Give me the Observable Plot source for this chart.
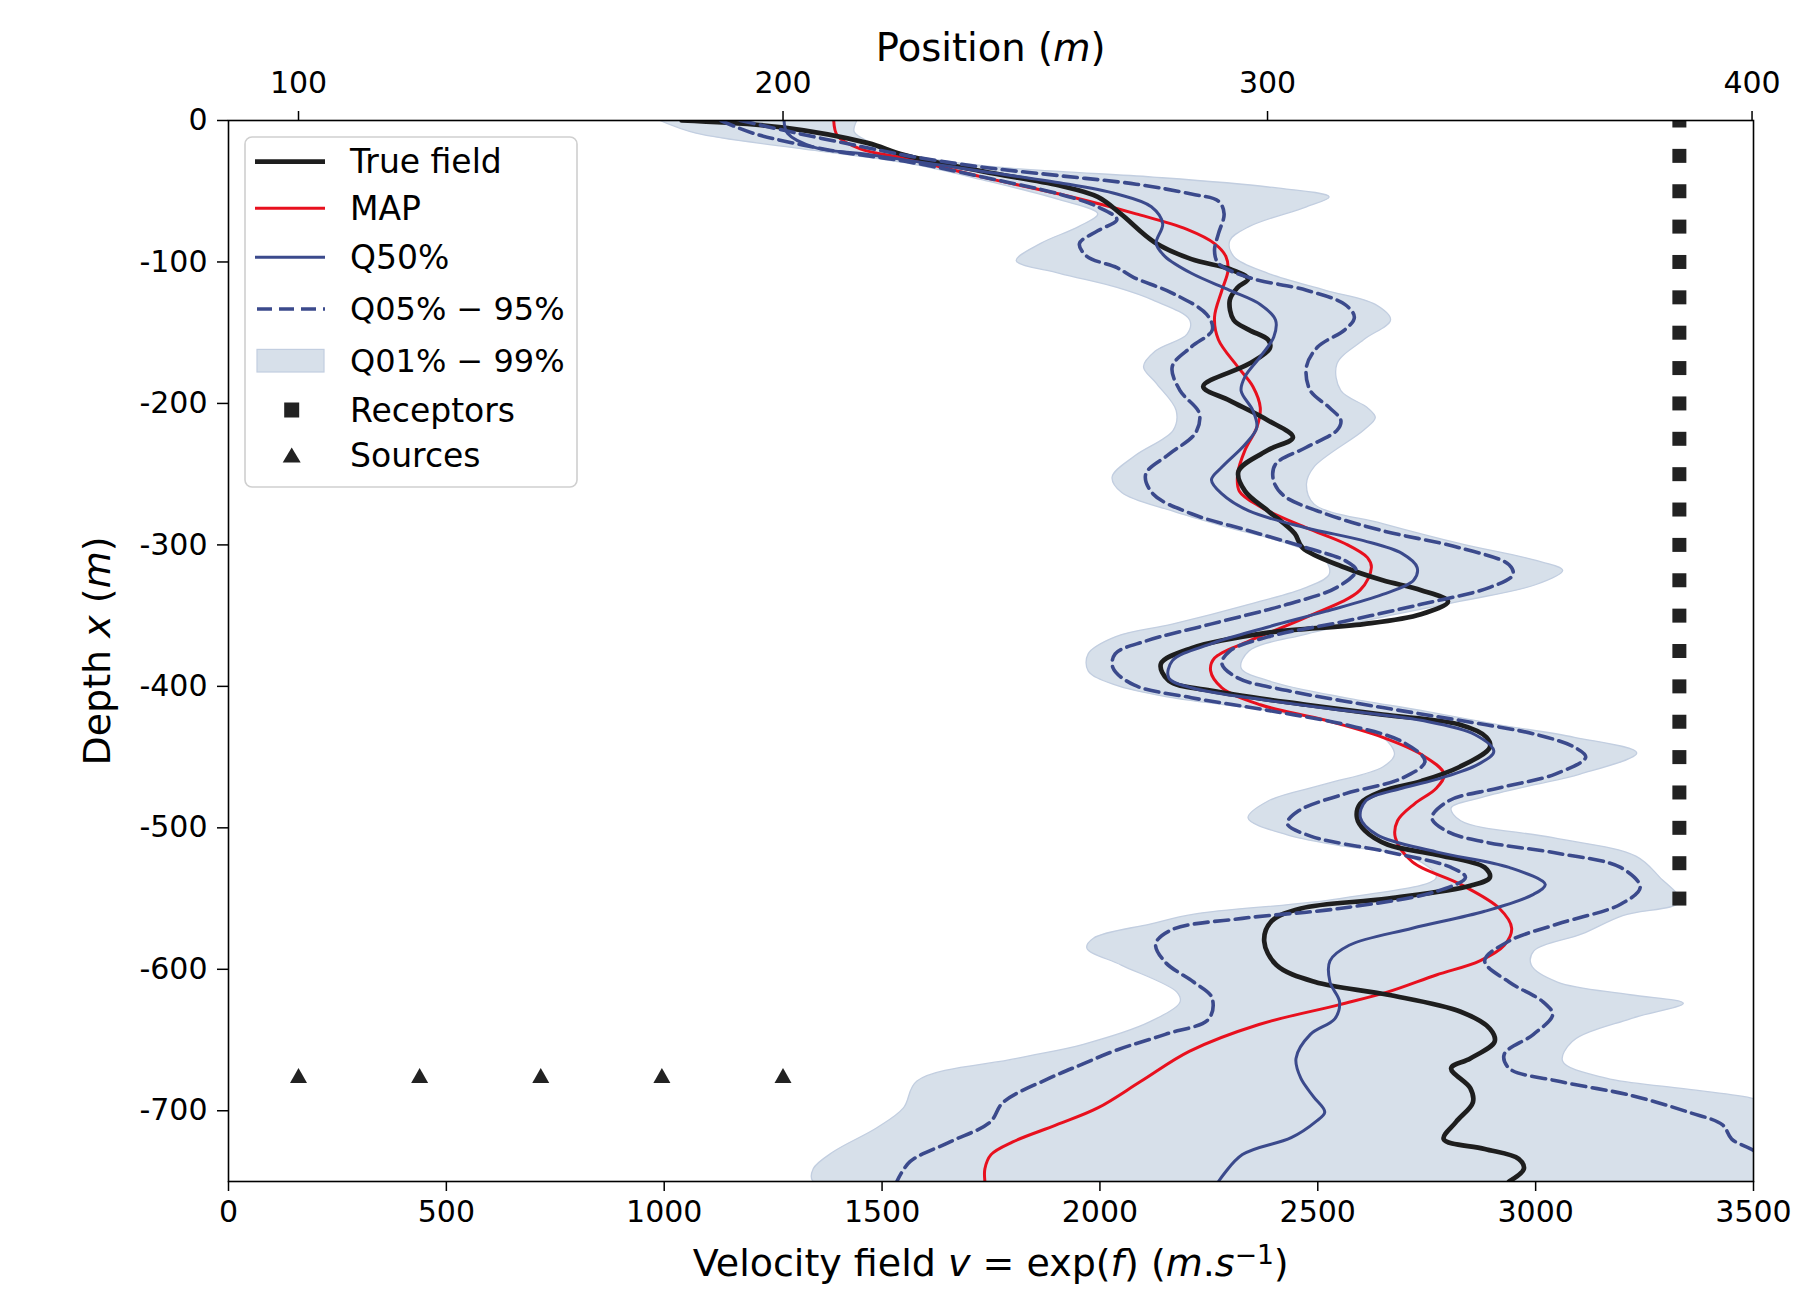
<!DOCTYPE html>
<html>
<head>
<meta charset="utf-8">
<script src="https://cdn.jsdelivr.net/npm/d3@7"></script>
<script src="https://cdn.jsdelivr.net/npm/@observablehq/plot@0.6"></script>
<style>
  body { margin: 0; background: white; }
  svg text { font-family: "DejaVu Sans", sans-serif; }
</style>
</head>
<body>
<div id="chart"></div>
<script>
// ---------- data (depth m, velocity m/s) ----------
const depthTicks = [0, -100, -200, -300, -400, -500, -600, -700];
const velocityTicks = [0, 500, 1000, 1500, 2000, 2500, 3000, 3500];
const positionTicks = [100, 200, 300, 400];
const positionDomain = [85.55, 400.3];   // top axis (Position, m)

const receptorPosition = 385;
const receptorDepths = [0, -25, -50, -75, -100, -125, -150, -175, -200, -225, -250, -275,
  -300, -325, -350, -375, -400, -425, -450, -475, -500, -525, -550];
const sourcePositions = [100, 125, 150, 175, 200];
const sourceDepth = -675;

const trueField = [[0,1040],[-5,1275],[-16,1468],[-24,1547],[-36,1731],[-46,1907],[-54,1995],[-66,2048],[-86,2125],[-98,2210],[-105,2298],[-112,2340],[-118,2316],[-127,2298],[-141,2307],[-148,2342],[-155,2386],[-161,2390],[-172,2342],[-188,2237],[-198,2298],[-212,2386],[-224,2443],[-233,2386],[-248,2318],[-262,2333],[-276,2386],[-292,2447],[-302,2465],[-316,2562],[-325,2649],[-332,2737],[-340,2799],[-349,2737],[-356,2605],[-362,2386],[-373,2210],[-384,2140],[-396,2158],[-403,2254],[-413,2474],[-420,2649],[-427,2825],[-436,2887],[-443,2895],[-457,2825],[-467,2737],[-474,2649],[-483,2597],[-493,2590],[-502,2608],[-512,2661],[-519,2772],[-528,2883],[-535,2895],[-541,2850],[-550,2661],[-557,2461],[-566,2394],[-580,2377],[-597,2405],[-609,2494],[-618,2661],[-630,2828],[-642,2895],[-651,2906],[-663,2850],[-670,2806],[-684,2850],[-694,2856],[-708,2817],[-720,2789],[-727,2883],[-734,2961],[-741,2973],[-750,2939]];

const mapField = [[0,1389],[-11,1398],[-20,1450],[-27,1556],[-40,1731],[-52,1907],[-66,2083],[-77,2200],[-87,2263],[-96,2289],[-106,2294],[-120,2280],[-139,2263],[-155,2272],[-174,2316],[-188,2351],[-203,2368],[-217,2360],[-233,2333],[-250,2316],[-262,2320],[-273,2368],[-288,2474],[-299,2562],[-309,2614],[-316,2623],[-332,2597],[-351,2474],[-368,2342],[-380,2263],[-389,2254],[-401,2280],[-413,2368],[-424,2518],[-436,2649],[-448,2737],[-462,2790],[-472,2772],[-483,2722],[-495,2683],[-507,2678],[-524,2717],[-540,2828],[-557,2917],[-571,2945],[-583,2928],[-594,2872],[-604,2772],[-616,2661],[-625,2550],[-639,2365],[-658,2205],[-679,2095],[-698,1995],[-710,1900],[-722,1800],[-731,1750],[-741,1736],[-750,1736]];

const q50 = [[0,1275],[-9,1283],[-19,1345],[-24,1468],[-28,1556],[-36,1731],[-44,1907],[-52,2039],[-61,2118],[-73,2144],[-87,2129],[-96,2149],[-108,2210],[-120,2298],[-130,2368],[-141,2403],[-153,2399],[-167,2368],[-181,2333],[-191,2324],[-205,2351],[-217,2360],[-229,2333],[-245,2280],[-254,2256],[-264,2280],[-276,2342],[-288,2474],[-297,2605],[-306,2693],[-316,2728],[-325,2720],[-335,2649],[-347,2518],[-358,2386],[-370,2254],[-382,2166],[-394,2158],[-401,2210],[-410,2386],[-417,2562],[-424,2737],[-434,2860],[-446,2904],[-455,2869],[-465,2781],[-472,2693],[-481,2610],[-493,2598],[-505,2636],[-517,2772],[-528,2939],[-540,3022],[-547,2995],[-559,2883],[-571,2717],[-583,2572],[-594,2528],[-609,2528],[-623,2550],[-635,2539],[-646,2483],[-663,2450],[-677,2461],[-690,2490],[-701,2516],[-708,2494],[-719,2439],[-731,2327],[-750,2272]];

const q05 = [[0,1130],[-9,1204],[-21,1380],[-29,1556],[-40,1731],[-52,1907],[-61,1995],[-70,2039],[-78,1995],[-87,1953],[-96,1970],[-104,2039],[-111,2078],[-122,2166],[-137,2245],[-148,2258],[-160,2210],[-174,2166],[-191,2184],[-207,2228],[-221,2219],[-236,2158],[-250,2105],[-264,2122],[-278,2210],[-290,2342],[-302,2474],[-311,2562],[-318,2588],[-330,2544],[-342,2430],[-356,2254],[-368,2105],[-377,2035],[-387,2030],[-399,2078],[-408,2210],[-417,2386],[-427,2562],[-439,2693],[-453,2746],[-465,2693],[-476,2562],[-488,2456],[-497,2430],[-506,2485],[-517,2661],[-528,2806],[-535,2839],[-545,2772],[-557,2550],[-564,2327],[-572,2165],[-582,2128],[-595,2150],[-609,2215],[-620,2257],[-635,2250],[-646,2150],[-657,2039],[-667,1960],[-677,1884],[-694,1778],[-708,1748],[-722,1656],[-736,1564],[-750,1534]];

const q95 = [[0,1175],[-8,1290],[-17,1430],[-25,1560],[-33,1731],[-39,1907],[-45,2083],[-52,2210],[-57,2272],[-66,2285],[-80,2272],[-92,2263],[-101,2272],[-111,2342],[-120,2474],[-130,2562],[-139,2584],[-148,2562],[-160,2500],[-174,2474],[-191,2483],[-203,2527],[-212,2553],[-219,2544],[-231,2474],[-243,2403],[-254,2398],[-265,2421],[-278,2518],[-290,2649],[-302,2825],[-314,2939],[-321,2948],[-330,2895],[-342,2737],[-354,2562],[-365,2386],[-375,2298],[-384,2280],[-394,2316],[-403,2430],[-415,2649],[-424,2825],[-434,3001],[-443,3089],[-450,3115],[-462,3045],[-472,2913],[-481,2800],[-493,2762],[-503,2800],[-510,2883],[-518,3050],[-528,3195],[-542,3240],[-554,3195],[-568,3050],[-580,2939],[-594,2883],[-609,2939],[-623,3017],[-632,3039],[-646,2995],[-660,2928],[-670,2939],[-679,3050],[-689,3217],[-701,3351],[-710,3429],[-720,3450],[-728,3500],[-740,3560],[-750,3600]];

const q01 = [[0,990],[-9,1073],[-19,1292],[-30,1556],[-42,1731],[-56,1907],[-66,1995],[-75,1951],[-87,1863],[-99,1808],[-108,1907],[-118,2039],[-127,2122],[-141,2206],[-151,2200],[-163,2127],[-174,2100],[-186,2130],[-205,2175],[-219,2168],[-237,2080],[-252,2028],[-263,2050],[-276,2166],[-288,2298],[-299,2430],[-311,2518],[-321,2526],[-330,2474],[-342,2342],[-356,2166],[-365,2035],[-377,1973],[-389,1973],[-399,2035],[-408,2166],[-417,2386],[-427,2562],[-436,2649],[-448,2676],[-457,2649],[-469,2518],[-481,2386],[-493,2340],[-505,2430],[-513,2560],[-521,2717],[-535,2772],[-550,2550],[-561,2216],[-568,2115],[-578,1985],[-585,1970],[-597,2049],[-616,2176],[-623,2184],[-637,2115],[-653,1962],[-663,1809],[-679,1580],[-698,1549],[-712,1488],[-729,1388],[-741,1342],[-750,1342]];

const q99 = [[0,1442],[-8,1436],[-15,1470],[-24,1560],[-32,1731],[-36,1907],[-40,2122],[-47,2386],[-54,2526],[-61,2474],[-75,2342],[-85,2298],[-96,2307],[-108,2386],[-120,2518],[-130,2632],[-141,2667],[-155,2605],[-172,2544],[-191,2553],[-203,2614],[-210,2632],[-219,2605],[-245,2491],[-257,2474],[-271,2491],[-285,2649],[-299,2825],[-311,3001],[-318,3062],[-328,3001],[-340,2825],[-351,2649],[-363,2474],[-375,2342],[-387,2324],[-396,2386],[-408,2562],[-417,2737],[-427,2913],[-436,3089],[-447,3232],[-462,3102],[-470,2990],[-479,2870],[-486,2806],[-495,2828],[-507,3040],[-520,3230],[-535,3285],[-552,3332],[-562,3200],[-575,3106],[-587,2996],[-597,2990],[-609,3050],[-618,3217],[-624,3339],[-635,3217],[-651,3084],[-665,3062],[-677,3162],[-684,3329],[-691,3495],[-700,3600],[-750,3600]];

// ---------- helpers ----------
const X_MAX = 3500;
const toV = p => (p - positionDomain[0]) * X_MAX / (positionDomain[1] - positionDomain[0]);
const toP = v => positionDomain[0] + v * (positionDomain[1] - positionDomain[0]) / X_MAX;
const rows = a => a.map(([d, v]) => ({d, v}));

const bandPolygon = rows(q01).concat(rows(q99).reverse());
const receptors = receptorDepths.map(d => ({d, v: toV(receptorPosition)}));
const sources = sourcePositions.map(p => ({d: sourceDepth, v: toV(p)}));

const squareSym = {draw(ctx, size) { const r = Math.sqrt(size / Math.PI);
  ctx.moveTo(-r, -r); ctx.lineTo(r, -r); ctx.lineTo(r, r); ctx.lineTo(-r, r); ctx.closePath(); }};
const triSym = {draw(ctx, size) { const r = Math.sqrt(size / Math.PI); const h = 0.88 * r;
  ctx.moveTo(0, -h); ctx.lineTo(r, h); ctx.lineTo(-r, h); ctx.closePath(); }};

const C = {black: "#1e1e1e", red: "#e8101e", blue: "#3b4a8c", band: "#d7e0ea", bandEdge: "#c2cee0", mark: "#222222"};

const svg = Plot.plot({
  width: 1799, height: 1294,
  marginLeft: 228, marginRight: 46, marginTop: 120, marginBottom: 113,
  style: {fontFamily: "DejaVu Sans", fontSize: "30px", background: "white", color: "black", overflow: "visible"},
  x: {domain: [0, X_MAX], axis: null},
  y: {domain: [-750, 0], axis: null},
  marks: [
    Plot.line(bandPolygon, {x: "v", y: "d", fill: C.band, stroke: C.bandEdge, strokeWidth: 1.3, curve: "catmull-rom", clip: true}),
    Plot.line(rows(mapField), {x: "v", y: "d", stroke: C.red, strokeWidth: 3, curve: "catmull-rom", clip: true}),
    Plot.line(rows(trueField), {x: "v", y: "d", stroke: C.black, strokeWidth: 4.7, curve: "catmull-rom", clip: true}),
    Plot.line(rows(q50), {x: "v", y: "d", stroke: C.blue, strokeWidth: 3, curve: "catmull-rom", clip: true}),
    Plot.line(rows(q05), {x: "v", y: "d", stroke: C.blue, strokeWidth: 3.6, strokeDasharray: "14,6.5", curve: "catmull-rom", clip: true}),
    Plot.line(rows(q95), {x: "v", y: "d", stroke: C.blue, strokeWidth: 3.6, strokeDasharray: "14,6.5", curve: "catmull-rom", clip: true}),
    Plot.dot(receptors, {x: "v", y: "d", symbol: squareSym, r: 7, fill: C.mark, stroke: "none", clip: true}),
    Plot.dot(sources, {x: "v", y: "d", symbol: triSym, r: 8.5, fill: C.mark, stroke: "none", clip: true}),
    Plot.axisX({anchor: "bottom", ticks: velocityTicks, tickFormat: d => String(d), tickSize: 10, tickPadding: 9, strokeWidth: 1.5, fontSize: 30, label: null}),
    Plot.axisX({anchor: "top", ticks: positionTicks.map(toV), tickFormat: v => String(Math.round(toP(v))), tickSize: 10, tickPadding: 17.5, strokeWidth: 1.5, fontSize: 30, label: null}),
    Plot.axisY({anchor: "left", ticks: depthTicks, tickFormat: d => String(d), tickSize: 11, tickPadding: 10, strokeWidth: 1.5, fontSize: 30, label: null}),
    Plot.frame({stroke: "black", strokeWidth: 1.6})
  ]
});

document.getElementById("chart").appendChild(svg);

// ---------- axis titles (rich text) ----------
const s = d3.select(svg);
const addRich = (sel, parts) => {
  parts.forEach(p => {
    const t = sel.append("tspan").text(p.t);
    if (p.i) t.attr("font-style", "italic");
    if (p.sup) t.attr("font-size", "0.7em").attr("dy", "-0.45em");
    if (p.down) t.attr("dy", "0.315em");
  });
};
const topTitle = s.append("text").attr("x", 990.7).attr("y", 61).attr("text-anchor", "middle")
  .attr("font-size", 38.5).attr("fill", "black");
addRich(topTitle, [{t: "Position ("}, {t: "m", i: 1}, {t: ")"}]);

const bottomTitle = s.append("text").attr("x", 990.7).attr("y", 1276).attr("text-anchor", "middle")
  .attr("font-size", 38).attr("fill", "black");
addRich(bottomTitle, [{t: "Velocity field "}, {t: "v", i: 1}, {t: " = exp("}, {t: "f", i: 1}, {t: ") ("},
  {t: "m", i: 1}, {t: "."}, {t: "s", i: 1}, {t: "\u22121", sup: 1}, {t: ")", down: 1}]);

const leftTitle = s.append("text").attr("transform", "translate(110,651) rotate(-90)").attr("text-anchor", "middle")
  .attr("font-size", 38).attr("fill", "black");
addRich(leftTitle, [{t: "Depth "}, {t: "x", i: 1}, {t: " ("}, {t: "m", i: 1}, {t: ")"}]);

// ---------- legend ----------
const lg = s.append("g").attr("text-anchor", "start");
lg.append("rect").attr("x", 245).attr("y", 137).attr("width", 332).attr("height", 350).attr("rx", 7)
  .attr("fill", "white").attr("fill-opacity", 0.85).attr("stroke", "#cfcfcf").attr("stroke-width", 1.6);
const legendItems = [
  {label: "True field", kind: "line", color: C.black, w: 4.7},
  {label: "MAP", kind: "line", color: C.red, w: 3},
  {label: "Q50%", kind: "line", color: C.blue, w: 3},
  {label: "Q05% \u2212 95%", kind: "dash", color: C.blue, w: 3.6},
  {label: "Q01% \u2212 99%", kind: "patch"},
  {label: "Receptors", kind: "square"},
  {label: "Sources", kind: "tri"}
];
const rowY = [161.7, 208.3, 257.3, 309, 360.7, 410, 455];
const baseY = [173.3, 219.5, 268.5, 320.3, 372, 421.5, 466.5];
legendItems.forEach((it, i) => {
  const y = rowY[i];
  if (it.kind === "line" || it.kind === "dash") {
    const l = lg.append("line").attr("x1", 255).attr("x2", 325).attr("y1", y).attr("y2", y)
      .attr("stroke", it.color).attr("stroke-width", it.w);
    if (it.kind === "dash") l.attr("stroke-dasharray", "15,7").attr("x1", 257);
  } else if (it.kind === "patch") {
    lg.append("rect").attr("x", 257).attr("y", y - 11.3).attr("width", 67).attr("height", 22.6)
      .attr("fill", C.band).attr("stroke", C.bandEdge).attr("stroke-width", 1.2);
  } else if (it.kind === "square") {
    lg.append("rect").attr("x", 291.7 - 7.5).attr("y", y - 7.5).attr("width", 15).attr("height", 15).attr("fill", C.mark);
  } else {
    lg.append("path").attr("d", `M${291.7},${y - 7.5}L${291.7 + 9},${y + 7.5}L${291.7 - 9},${y + 7.5}Z`).attr("fill", C.mark);
  }
  const t = lg.append("text").attr("x", 350).attr("y", baseY[i]).attr("text-anchor", "start")
    .attr("font-size", 33).attr("fill", "black").text(it.label);
  if (it.kind === "dash" || it.kind === "patch") t.attr("font-size", 32);
});
</script>
</body>
</html>
